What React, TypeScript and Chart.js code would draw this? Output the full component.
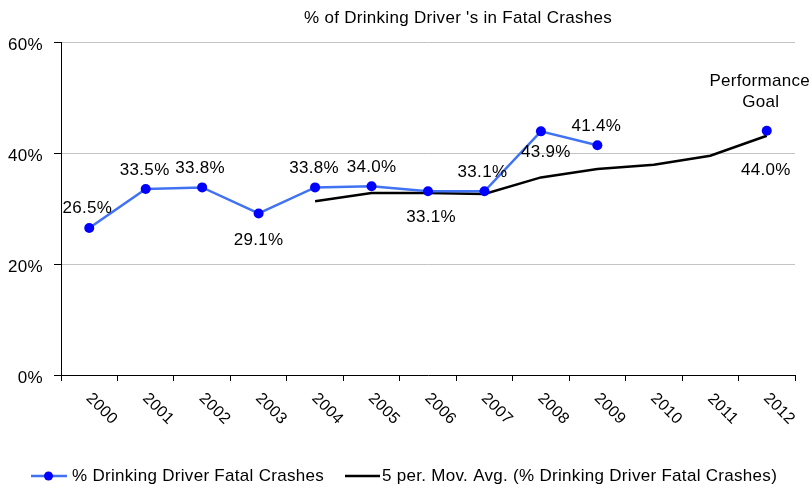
import React, { useEffect, useRef } from 'react';
import { Chart, registerables } from 'chart.js';

Chart.register(...registerables);

const YEARS = ['2000', '2001', '2002', '2003', '2004', '2005', '2006', '2007', '2008', '2009', '2010', '2011', '2012'];
const DRINKING = [26.5, 33.5, 33.8, 29.1, 33.8, 34.0, 33.1, 33.1, 43.9, 41.4, null, null, 44.0];
const MOV_AVG = [null, null, null, null, 31.3, 32.8, 32.8, 32.6, 35.6, 37.1, 37.9, 39.5, 43.1];
const Y_TICKS = [0, 20, 40, 60];
const TITLE = "% of Drinking Driver 's in Fatal Crashes";
const SERIES_NAMES = ['% Drinking Driver Fatal Crashes', '5 per. Mov. Avg. (% Drinking Driver Fatal Crashes)'];
const GOAL_LABEL = ['Performance', 'Goal'];

// label placement relative to the point: [dx, baseline dy]
const LABEL_PLACE: ([number, number] | null)[] = [
  [-2, -15], [-1, -14], [-2, -14], [0, 32], [-1, -14], [0, -14], [3, 31],
  [-2, -14], [5, 26], [-1, -14], null, null, [-1, 44],
];

const FONT = '"Liberation Sans", Arial, sans-serif';
const FS = 17;
const LS = '0.3px';
const BLUE_LINE = '#4072f2';
const BLUE_DOT = '#0000ff';

const decorPlugin = {
  id: 'decor',
  beforeDraw(chart: any) {
    chart.ctx.letterSpacing = LS;
  },
  afterDatasetsDraw(chart: any) {
    const ctx = chart.ctx;
    const xs = chart.scales.x;
    const ys = chart.scales.y;
    ctx.save();
    ctx.letterSpacing = LS;
    ctx.font = `${FS}px ${FONT}`;
    ctx.fillStyle = '#000';
    ctx.textAlign = 'center';
    ctx.textBaseline = 'alphabetic';
    DRINKING.forEach((v, i) => {
      const p = LABEL_PLACE[i];
      if (v == null || !p) return;
      const x = xs.getPixelForValue(i);
      const y = ys.getPixelForValue(v);
      ctx.fillText(v.toFixed(1) + '%', x + p[0], y + p[1]);
    });
    const gi = DRINKING.length - 1;
    const gx = xs.getPixelForValue(gi);
    const gy = ys.getPixelForValue(DRINKING[gi] as number);
    ctx.fillText(GOAL_LABEL[0], gx - 7, gy - 45);
    ctx.fillText(GOAL_LABEL[1], gx - 6, gy - 24);
    ctx.restore();
  },
  afterDraw(chart: any) {
    const ctx = chart.ctx;
    const xs = chart.scales.x;
    ctx.save();
    ctx.letterSpacing = LS;
    ctx.fillStyle = '#000';
    ctx.font = `${FS}px ${FONT}`;
    ctx.textAlign = 'center';
    ctx.textBaseline = 'alphabetic';
    ctx.fillText(TITLE, 458, 22.5);
    ctx.font = `16px ${FONT}`;
    YEARS.forEach((lab, i) => {
      const x = xs.getPixelForValue(i);
      ctx.save();
      ctx.translate(x + 12.4, xs.top + 34);
      ctx.rotate(Math.PI / 4);
      ctx.textAlign = 'center';
      ctx.textBaseline = 'middle';
      ctx.fillText(lab, 0, 0);
      ctx.restore();
    });
    ctx.font = `${FS}px ${FONT}`;
    const ly = 476;
    ctx.lineWidth = 2.5;
    ctx.strokeStyle = BLUE_LINE;
    ctx.beginPath();
    ctx.moveTo(31, ly);
    ctx.lineTo(67, ly);
    ctx.stroke();
    ctx.fillStyle = BLUE_DOT;
    ctx.beginPath();
    ctx.arc(48.5, ly, 4.5, 0, Math.PI * 2);
    ctx.fill();
    ctx.strokeStyle = '#000';
    ctx.beginPath();
    ctx.moveTo(345, ly);
    ctx.lineTo(380, ly);
    ctx.stroke();
    ctx.fillStyle = '#000';
    ctx.textAlign = 'left';
    ctx.fillText(SERIES_NAMES[0], 72, 481);
    ctx.fillText(SERIES_NAMES[1], 382, 481);
    ctx.restore();
  },
};

export default function App() {
  const ref = useRef<HTMLCanvasElement>(null);
  useEffect(() => {
    if (!ref.current) return;
    Chart.defaults.font.family = FONT;
    const chart = new Chart(ref.current, {
      type: 'line',
      data: {
        labels: YEARS,
        datasets: [
          {
            label: SERIES_NAMES[0],
            data: DRINKING,
            borderColor: BLUE_LINE,
            borderWidth: 2.5,
            pointRadius: 5,
            pointBackgroundColor: BLUE_DOT,
            pointBorderColor: BLUE_DOT,
            pointBorderWidth: 0,
            spanGaps: false,
            tension: 0,
          },
          {
            label: SERIES_NAMES[1],
            data: MOV_AVG,
            borderColor: '#000',
            borderWidth: 2.5,
            pointRadius: 0,
            tension: 0,
          },
        ],
      },
      options: {
        responsive: false,
        animation: false,
        layout: { padding: { top: 42, right: 17, left: 0, bottom: 0 } },
        plugins: {
          legend: { display: false },
          title: { display: false },
          tooltip: { enabled: false },
        },
        scales: {
          x: {
            offset: true,
            grid: { drawOnChartArea: false, drawTicks: true, tickLength: 6, tickColor: '#000', offset: true },
            border: { color: '#000', width: 1 },
            ticks: { display: false },
            afterFit: (s: any) => { s.height = 113; },
          },
          y: {
            min: 0,
            max: 60,
            afterBuildTicks: (s: any) => { s.ticks = Y_TICKS.map((v) => ({ value: v })); },
            grid: { color: '#c4c4c4', lineWidth: 1, tickLength: 7, tickColor: '#000' },
            border: { color: '#000', width: 1 },
            ticks: {
              color: '#000',
              font: { size: FS, family: FONT },
              padding: 11,
              labelOffset: 3,
              callback: (v: any) => v + '%',
            },
            afterFit: (s: any) => { s.width = 61; },
          },
        },
      },
      plugins: [decorPlugin],
    } as any);
    return () => chart.destroy();
  }, []);
  return (
    <div style={{ position: 'fixed', left: 0, top: 0, width: 812, height: 488, background: '#fff' }}>
      <canvas ref={ref} width={812} height={488} style={{ display: 'block' }} />
    </div>
  );
}
